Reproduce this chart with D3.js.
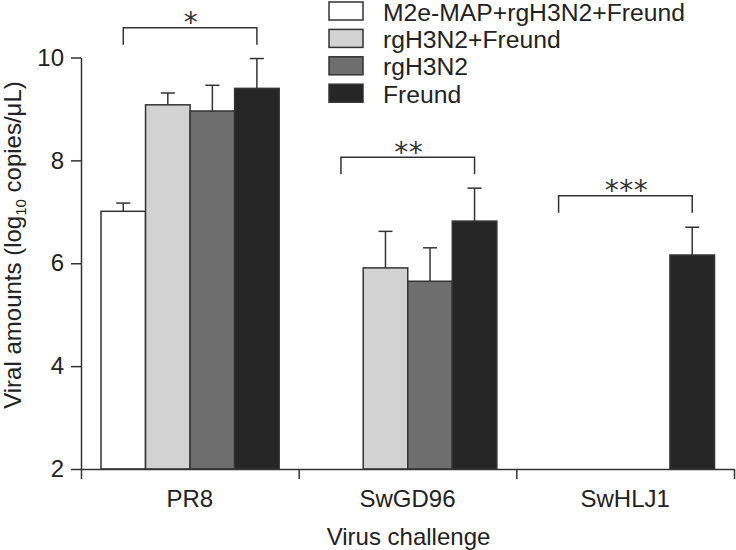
<!DOCTYPE html>
<html>
<head>
<meta charset="utf-8">
<script src="https://cdn.jsdelivr.net/npm/d3@7"></script>
<style>
	html, body { margin: 0; padding: 0; background: #fff; }
	svg { display: block; font-family: "Liberation Sans", Arial, Helvetica, sans-serif; }
</style>
</head>
<body>
<div id="chart"></div>
<script>
// data
const categories = ['PR8', 'SwGD96', 'SwHLJ1'];
const groups = ['M2e-MAP+rgH3N2+Freund', 'rgH3N2+Freund', 'rgH3N2', 'Freund'];
const m2eMean = [7.01, null, null];
const m2eErr = [0.16, null, null];
const rgFreundMean = [9.08, 5.91, null];
const rgFreundErr = [0.23, 0.71, null];
const rgMean = [8.96, 5.65, null];
const rgErr = [0.50, 0.65, null];
const freundMean = [9.40, 6.82, 6.16];
const freundErr = [0.58, 0.64, 0.54];
const yTicks = [2, 4, 6, 8, 10];
// significance brackets: category, from group, to group, level, label
const sigCategory = ['PR8', 'SwGD96', 'SwHLJ1'];
const sigFrom = [0, 0, 0];
const sigTo = [3, 3, 3];
const sigLevel = [10.58, 8.06, 7.31];
const sigLabel = ['*', '**', '***'];

const means = [m2eMean, rgFreundMean, rgMean, freundMean];
const errs = [m2eErr, rgFreundErr, rgErr, freundErr];
const colors = ['#ffffff', '#d2d2d2', '#6e6e6e', '#262626'];
const ink = '#333';

const W = 736, H = 550;
const mLeft = 81, mRight = 734, mBottom = 469, mTop = 57.5;

const svg = d3.select('#chart').append('svg')
	.attr('width', W)
	.attr('height', H);

const y = d3.scaleLinear().domain([2, 10]).range([mBottom, mTop]);
const x = d3.scaleBand().domain(categories).range([mLeft, mRight]);
const inner = d3.scaleBand().domain(d3.range(groups.length)).range([20, x.bandwidth() - 19.5]);
const bounds = d3.scaleLinear().domain([0, categories.length]).range([mLeft, mRight]);

// flat bar list
let bars = [];
categories.forEach((c, ci) => {
	groups.forEach((g, gi) => {
		if (means[gi][ci] != null) {
			bars.push({cat: c, gi: gi, v: means[gi][ci], e: errs[gi][ci]});
		}
	});
});

const barX = (d) => x(d.cat) + inner(d.gi);

// error bars first (only the upper part shows)
const eg = svg.append('g').attr('stroke', ink).attr('stroke-width', 1.5).attr('fill', 'none');
eg.selectAll('line.stem').data(bars).join('line')
	.attr('class', 'stem')
	.attr('x1', (d) => barX(d) + inner.bandwidth() / 2)
	.attr('x2', (d) => barX(d) + inner.bandwidth() / 2)
	.attr('y1', (d) => y(d.v))
	.attr('y2', (d) => y(d.v + d.e));
eg.selectAll('line.cap').data(bars).join('line')
	.attr('class', 'cap')
	.attr('x1', (d) => barX(d) + inner.bandwidth() / 2 - 7)
	.attr('x2', (d) => barX(d) + inner.bandwidth() / 2 + 7)
	.attr('y1', (d) => y(d.v + d.e))
	.attr('y2', (d) => y(d.v + d.e));

svg.append('g').selectAll('rect').data(bars).join('rect')
	.attr('x', barX)
	.attr('y', (d) => y(d.v))
	.attr('width', inner.bandwidth())
	.attr('height', (d) => y(2) - y(d.v))
	.attr('fill', (d) => colors[d.gi])
	.attr('stroke', ink)
	.attr('stroke-width', 1.5);

// axes
const yAxis = svg.append('g')
	.attr('transform', `translate(${mLeft},0)`)
	.call(d3.axisLeft(y).tickValues(yTicks).tickSize(10).tickSizeOuter(0).tickPadding(7));
const xAxis = svg.append('g')
	.attr('transform', `translate(0,${mBottom})`)
	.call(d3.axisBottom(bounds).tickValues(d3.range(categories.length + 1)).tickFormat('').tickSize(10).tickSizeOuter(0));
[yAxis, xAxis].forEach((a) => {
	a.attr('font-family', null);
	a.selectAll('path, line').attr('stroke', ink).attr('stroke-width', 1.5);
	a.selectAll('text').attr('font-size', 24).attr('fill', '#222');
});

svg.append('g').selectAll('text').data(categories).join('text')
	.attr('x', (d) => x(d) + x.bandwidth() / 2)
	.attr('y', 506.5)
	.attr('text-anchor', 'middle')
	.attr('font-size', 24)
	.attr('fill', '#222')
	.text((d) => d);

svg.append('text')
	.attr('x', (mLeft + mRight) / 2 + 1)
	.attr('y', 545)
	.attr('text-anchor', 'middle')
	.attr('font-size', 24)
	.attr('fill', '#222')
	.text('Virus challenge');

const yt = svg.append('text')
	.attr('transform', 'translate(21,245) rotate(-90)')
	.attr('text-anchor', 'middle')
	.attr('font-size', 24)
	.attr('fill', '#222');
yt.append('tspan').text('Viral amounts (log');
yt.append('tspan').attr('font-size', 15).attr('dy', 5).text('10');
yt.append('tspan').attr('dy', -5).text(' copies/\u03bcL)');

// significance brackets
const sg = svg.append('g');
sigCategory.forEach((c, i) => {
	const x1 = x(c) + inner(sigFrom[i]) + inner.bandwidth() / 2;
	const x2 = x(c) + inner(sigTo[i]) + inner.bandwidth() / 2;
	const yy = y(sigLevel[i]);
	sg.append('path')
		.attr('d', `M${x1},${yy + 17}V${yy}H${x2}V${yy + 17}`)
		.attr('fill', 'none')
		.attr('stroke', ink)
		.attr('stroke-width', 1.5);
	sg.append('text')
		.attr('x', (x1 + x2) / 2 + 1)
		.attr('y', yy + 4.5)
		.attr('text-anchor', 'middle')
		.attr('font-family', '"DejaVu Sans", sans-serif')
		.attr('font-size', 28)
		.attr('letter-spacing', 0.5)
		.attr('fill', '#333')
		.text(sigLabel[i]);
});

// legend
const lg = svg.append('g').selectAll('g').data(groups).join('g')
	.attr('transform', (d, i) => `translate(329,${2 + i * 27.4})`);
lg.append('rect')
	.attr('width', 34)
	.attr('height', 18)
	.attr('fill', (d, i) => colors[i])
	.attr('stroke', ink)
	.attr('stroke-width', 1.5);
lg.append('text')
	.attr('x', 54)
	.attr('y', 18.5)
	.attr('font-size', 24.7)
	.attr('fill', '#222')
	.text((d) => d);
</script>
</body>
</html>
